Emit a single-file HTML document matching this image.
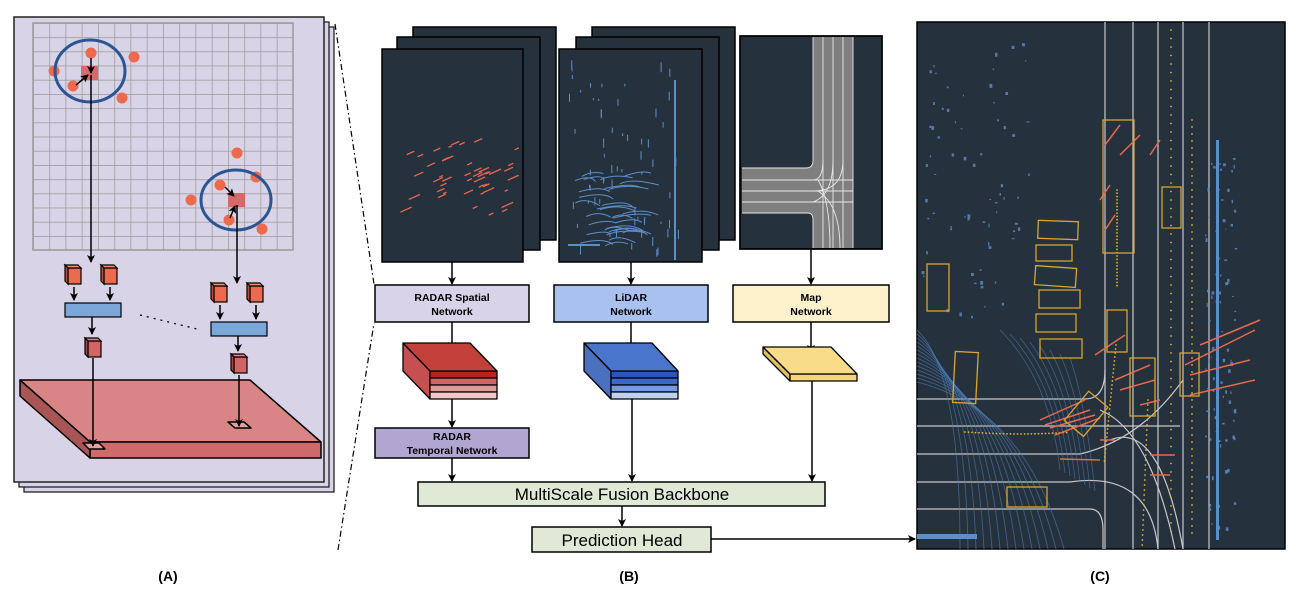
<!DOCTYPE html>
<html><head><meta charset="utf-8">
<style>
html,body{margin:0;padding:0;background:#fff;}
svg{display:block;}
text{font-family:"Liberation Sans",sans-serif;}
</style></head>
<body>
<svg id="s" width="1296" height="594" viewBox="0 0 1296 594" xmlns="http://www.w3.org/2000/svg">
<defs>
<marker id="ah" markerWidth="8" markerHeight="8" refX="7" refY="4" orient="auto" markerUnits="userSpaceOnUse">
<path d="M0,0 L8,4 L0,8 L2,4 z" fill="#000"/>
</marker>
<pattern id="grid" x="33" y="23" width="16.25" height="14.2" patternUnits="userSpaceOnUse">
<path d="M16.25 0 L0 0 L0 14.2" fill="none" stroke="#9a9a9a" stroke-width="1.5"/>
</pattern>
<clipPath id="cc"><rect x="917" y="22" width="368" height="527"/></clipPath>
</defs>

<!-- Panel A pages -->
<rect x="24" y="27" width="310" height="465" fill="#d8d3e6" stroke="#222" stroke-width="1.3"/>
<rect x="19" y="22" width="310" height="465" fill="#d8d3e6" stroke="#222" stroke-width="1.3"/>
<rect x="14" y="17" width="310" height="465" fill="#d8d3e6" stroke="#222" stroke-width="1.5"/>
<rect x="33" y="23" width="260" height="227" fill="url(#grid)"/>
<rect x="33" y="23" width="260" height="227" fill="none" stroke="#9a9a9a" stroke-width="1.5"/>
<g fill="#ee6a4f">
<circle cx="91" cy="53" r="5.5"/><circle cx="134" cy="57" r="5.5"/><circle cx="54" cy="71" r="5.5"/><circle cx="73" cy="86" r="5.5"/><circle cx="122" cy="98" r="5.5"/>
<circle cx="237" cy="153" r="5.5"/><circle cx="256" cy="177" r="5.5"/><circle cx="220" cy="185" r="5.5"/><circle cx="191" cy="200" r="5.5"/><circle cx="229" cy="220" r="5.5"/><circle cx="262" cy="229" r="5.5"/>
</g>
<rect x="81" y="66" width="17" height="14" fill="#d66a6a"/>
<rect x="228" y="193" width="17" height="14" fill="#d66a6a"/>
<ellipse cx="90" cy="71" rx="35" ry="31" fill="none" stroke="#2a5592" stroke-width="3"/>
<ellipse cx="236" cy="200" rx="35" ry="30" fill="none" stroke="#2a5592" stroke-width="3"/>
<g stroke="#000" stroke-width="1.5" fill="none" marker-end="url(#ah)">
<line x1="91" y1="58" x2="91" y2="73"/>
<line x1="76" y1="85" x2="88" y2="75"/>
<line x1="91" y1="75" x2="91" y2="262"/>
<line x1="225" y1="187" x2="234" y2="196"/>
<line x1="230" y1="218" x2="235" y2="206"/>
<line x1="237" y1="205" x2="237" y2="283"/>
<line x1="74" y1="287" x2="74" y2="300"/>
<line x1="110" y1="287" x2="110" y2="300"/>
<line x1="92" y1="317" x2="92" y2="334"/>
<line x1="220" y1="305" x2="220" y2="319"/>
<line x1="256" y1="305" x2="256" y2="319"/>
<line x1="238" y1="336" x2="238" y2="351"/>
</g>
<g stroke="#000" stroke-width="1.2">
<g transform="translate(65,265)"><rect x="3" y="3" width="13" height="16" fill="#ee6a4f"/><polygon points="0,0 13,0 16,3 3,3" fill="#f28a70"/><polygon points="0,0 3,3 3,19 0,16" fill="#c04a38"/></g>
<g transform="translate(101,265)"><rect x="3" y="3" width="13" height="16" fill="#ee6a4f"/><polygon points="0,0 13,0 16,3 3,3" fill="#f28a70"/><polygon points="0,0 3,3 3,19 0,16" fill="#c04a38"/></g>
<g transform="translate(211,283)"><rect x="3" y="3" width="13" height="16" fill="#ee6a4f"/><polygon points="0,0 13,0 16,3 3,3" fill="#f28a70"/><polygon points="0,0 3,3 3,19 0,16" fill="#c04a38"/></g>
<g transform="translate(247,283)"><rect x="3" y="3" width="13" height="16" fill="#ee6a4f"/><polygon points="0,0 13,0 16,3 3,3" fill="#f28a70"/><polygon points="0,0 3,3 3,19 0,16" fill="#c04a38"/></g>
<g transform="translate(85,338)"><rect x="3" y="3" width="13" height="16" fill="#d26464"/><polygon points="0,0 13,0 16,3 3,3" fill="#e08080"/><polygon points="0,0 3,3 3,19 0,16" fill="#a84545"/></g>
<g transform="translate(231,354)"><rect x="3" y="3" width="13" height="16" fill="#d26464"/><polygon points="0,0 13,0 16,3 3,3" fill="#e08080"/><polygon points="0,0 3,3 3,19 0,16" fill="#a84545"/></g>
<rect x="65" y="303" width="56" height="14" fill="#7aa7d8"/>
<rect x="211" y="322" width="56" height="14" fill="#7aa7d8"/>
</g>
<line x1="140" y1="315" x2="197" y2="329" stroke="#000" stroke-width="1.3" stroke-dasharray="2,5"/>
<g stroke="#000" stroke-width="1.5" stroke-linejoin="round">
<polygon points="20,380 250,380 321,442 90,442" fill="#d98585"/>
<polygon points="90,442 321,442 321,458 90,458" fill="#cf6a6a"/>
<polygon points="20,380 90,442 90,458 20,396" fill="#a85555"/>
<polygon points="83,443 99,443 105,449 89,449" fill="#e5a0a0"/>
<polygon points="228,422 244,422 251,428 235,428" fill="#e5a0a0"/>
</g>
<g stroke="#000" stroke-width="1.5" marker-end="url(#ah)"><line x1="93" y1="358" x2="93" y2="446"/><line x1="239" y1="375" x2="239" y2="426"/></g>
<g stroke="#000" stroke-width="1.2" stroke-dasharray="6,3,1.5,3" fill="none">
<line x1="335" y1="24" x2="374" y2="284"/>
<line x1="338" y1="550" x2="374" y2="323"/>
</g>

<!-- Panel B images -->
<g stroke="#000" stroke-width="1.5" fill="#26313e">
<rect x="413" y="27" width="143" height="213"/><rect x="397" y="37" width="143" height="213"/><rect x="382" y="49" width="141" height="213"/>
<rect x="592" y="27" width="143" height="213"/><rect x="576" y="37" width="143" height="213"/><rect x="559" y="49" width="143" height="213"/>
<rect x="740" y="36" width="142" height="213"/>
</g>
<g id="radarpts" stroke="#e8674d" stroke-width="1.3"></g>
<g id="lidarpts" stroke="#5b8fc7" stroke-width="1"></g>
<g>
<path d="M813,37 L853,37 L853,248 L813,248 L813,217 Q813,213 808,213 L742,213 L742,168 L806,168 Q813,168 813,160 Z" fill="#7f7f7f"/>
<g stroke="#e8e8e8" stroke-width="0.9" fill="none">
<line x1="813" y1="37" x2="813" y2="160"/><line x1="823" y1="37" x2="823" y2="248"/><line x1="833" y1="37" x2="833" y2="248"/><line x1="843" y1="37" x2="843" y2="248"/><line x1="853" y1="37" x2="853" y2="248"/>
<line x1="742" y1="168" x2="806" y2="168"/><line x1="742" y1="180" x2="853" y2="180"/><line x1="742" y1="191" x2="853" y2="191"/><line x1="742" y1="202" x2="853" y2="202"/><line x1="742" y1="213" x2="808" y2="213"/>
<path d="M806,168 Q813,168 813,160"/><path d="M808,213 Q813,213 813,220 L813,248"/>
<path d="M813,180 Q823,180 823,160"/><path d="M813,202 Q833,195 833,160"/><path d="M813,191 Q843,191 843,160"/>
<path d="M818,180 Q830,200 830,248"/><path d="M818,191 Q840,205 840,248"/>
</g>
</g>
<rect x="740" y="36" width="142" height="213" fill="none" stroke="#000" stroke-width="1.5"/>

<g stroke="#000" stroke-width="1.5" marker-end="url(#ah)">
<line x1="452" y1="262" x2="452" y2="284"/>
<line x1="631" y1="262" x2="631" y2="284"/>
<line x1="811" y1="249" x2="811" y2="284"/>
<line x1="452" y1="322" x2="452" y2="349"/>
<line x1="631" y1="322" x2="631" y2="349"/>
<line x1="811" y1="322" x2="811" y2="352"/>
<line x1="452" y1="399" x2="452" y2="427"/>
<line x1="632" y1="399" x2="632" y2="481"/>
<line x1="812" y1="381" x2="812" y2="481"/>
<line x1="452" y1="458" x2="452" y2="481"/>
<line x1="622" y1="506" x2="622" y2="526"/>
<line x1="711" y1="539" x2="915" y2="539"/>
</g>
<g stroke="#000" stroke-width="1.5">
<rect x="375" y="285" width="154" height="37" fill="#d8d3e8"/>
<rect x="554" y="285" width="154" height="37" fill="#a8c1ee"/>
<rect x="733" y="285" width="156" height="37" fill="#fdf1cc"/>
<rect x="375" y="428" width="154" height="30" fill="#b1a5d2"/>
<rect x="418" y="482" width="407" height="24" fill="#dfe9d6"/>
<rect x="532" y="527" width="179" height="25" fill="#dfe9d6"/>
</g>
<g font-size="10.5" font-weight="bold" text-anchor="middle" fill="#000">
<text x="452" y="301">RADAR Spatial</text><text x="452" y="315">Network</text>
<text x="631" y="301">LiDAR</text><text x="631" y="315">Network</text>
<text x="811" y="301">Map</text><text x="811" y="315">Network</text>
<text x="452" y="440">RADAR</text><text x="452" y="454">Temporal Network</text>
</g>
<text x="622" y="500" font-size="17" text-anchor="middle">MultiScale Fusion Backbone</text>
<text x="622" y="546" font-size="17" text-anchor="middle">Prediction Head</text>
<g stroke="#000" stroke-width="1.3" stroke-linejoin="round">
<polygon points="403,343 430,371 430,399 403,371" fill="#c65050"/>
<rect x="430" y="371" width="67" height="7" fill="#b5251e"/>
<rect x="430" y="378" width="67" height="7" fill="#d06565"/>
<rect x="430" y="385" width="67" height="7" fill="#e09a98"/>
<rect x="430" y="392" width="67" height="7" fill="#f2c8c4"/>
<polygon points="403,343 470,343 497,371 430,371" fill="#c4403a"/>
<polygon points="584,343 611,371 611,399 584,371" fill="#4a70c0"/>
<rect x="611" y="371" width="67" height="7" fill="#2a55c0"/>
<rect x="611" y="378" width="67" height="7" fill="#3e68c8"/>
<rect x="611" y="385" width="67" height="7" fill="#729add"/>
<rect x="611" y="392" width="67" height="7" fill="#bfd2f0"/>
<polygon points="584,343 652,343 678,371 611,371" fill="#4a75cc"/>
<polygon points="763,347 790,374 790,381 763,354" fill="#e0c060"/>
<rect x="790" y="374" width="67" height="7" fill="#f6d57a"/>
<polygon points="763,347 831,347 857,374 790,374" fill="#f8dc8a"/>
</g>

<!-- Panel C -->
<rect x="917" y="22" width="368" height="527" fill="#26313e" stroke="#000" stroke-width="1.5"/>
<g clip-path="url(#cc)">
<g stroke="#c8c8c8" stroke-width="1.2" fill="none">
<line x1="1105" y1="22" x2="1105" y2="549"/><line x1="1133" y1="22" x2="1133" y2="549"/>
<line x1="1158" y1="22" x2="1158" y2="549"/><line x1="1183" y1="22" x2="1183" y2="549"/>
<line x1="1209" y1="22" x2="1209" y2="549"/>
<path d="M917,399 L1085,399 Q1105,399 1105,370"/>
<line x1="917" y1="426" x2="1180" y2="426"/>
<path d="M917,454 L1080,454 Q1140,440 1183,380"/>
<path d="M917,482 L1070,482 Q1150,470 1158,549"/>
<path d="M917,509 L1090,509 Q1103,509 1103,530 L1103,549"/>
<path d="M1100,410 Q1150,430 1175,549"/><path d="M1110,440 Q1160,420 1183,549"/>
</g>
<g id="cpts"></g>
<g fill="none" stroke="#d9a52a" stroke-width="1.3">
<rect x="1103" y="120" width="31" height="133"/>
<rect x="1162" y="187" width="19" height="41"/>
<rect x="1038" y="221" width="40" height="18" transform="rotate(2 1058 230)"/>
<rect x="1036" y="245" width="36" height="16"/>
<rect x="1035" y="267" width="41" height="19" transform="rotate(4 1055 277)"/>
<rect x="1039" y="290" width="41" height="18"/>
<rect x="1036" y="314" width="40" height="18"/>
<rect x="1040" y="339" width="42" height="19"/>
<rect x="927" y="264" width="22" height="47"/>
<rect x="954" y="352" width="23" height="51" transform="rotate(3 965 377)"/>
<rect x="1107" y="310" width="20" height="42"/>
<rect x="1130" y="358" width="25" height="58"/>
<rect x="1180" y="353" width="19" height="43"/>
<rect x="1075" y="395" width="25" height="38" transform="rotate(40 1087 412)"/>
<rect x="1007" y="487" width="40" height="20"/>
</g>
</g>

<g font-size="14" font-weight="bold" text-anchor="middle">
<text x="168" y="581">(A)</text><text x="629" y="581">(B)</text><text x="1100" y="581">(C)</text>
</g>
<script>
(function(){
var ns="http://www.w3.org/2000/svg";
var seed=7;function r(){seed=(seed*16807)%2147483647;return seed/2147483647;}
function el(p,t,a){var e=document.createElementNS(ns,t);for(var k in a)e.setAttribute(k,a[k]);p.appendChild(e);return e;}
var rp=document.getElementById('radarpts');
for(var i=0;i<45;i++){var x=400+r()*115,y=130+r()*90;if(r()<0.4){y=165+r()*30;x=430+r()*60;}var l=3+r()*9;el(rp,'line',{x1:x,y1:y,x2:x+l,y2:y-l*0.45});}
var lp=document.getElementById('lidarpts');
for(var i=0;i<30;i++){var x=575+r()*50,y=170+r()*80;el(lp,'path',{d:'M'+x+','+y+' q'+(8+r()*20)+','+(-6)+' '+(20+r()*20)+','+(r()*6-3),fill:'none'});}
el(lp,'line',{x1:675,y1:80,x2:675,y2:260,'stroke-width':2});
el(lp,'line',{x1:568,y1:245,x2:600,y2:245,'stroke-width':2});
for(var i=0;i<60;i++){var x=565+r()*120,y=60+r()*195;el(lp,'rect',{x:x,y:y,width:1,height:2+r()*8,stroke:'none',fill:'#5b8fc7'});}
var cp=document.getElementById('cpts');
for(var i=0;i<14;i++){el(cp,'path',{d:'M917,'+(330+i*4)+' Q'+(960+i*5)+','+(370+i*3)+' '+(960+i*8)+','+(549),fill:'none',stroke:'#4e7fb8','stroke-width':0.9,'stroke-opacity':0.6});}
for(var i=0;i<8;i++){el(cp,'path',{d:'M'+(1000+i*10)+','+(330+i*4)+' Q'+(1050+i*5)+','+(380+i*3)+' '+(1060+i*5)+','+(470+i*3),fill:'none',stroke:'#4e7fb8','stroke-width':0.8,'stroke-opacity':0.6});}
el(cp,'rect',{x:1216,y:140,width:3,height:400,fill:'#5b8fc7'});
el(cp,'rect',{x:917,y:534,width:60,height:5,fill:'#5b8fc7'});
for(var i=0;i<70;i++){var x=920+r()*110,y=40+r()*280;el(cp,'rect',{x:x,y:y,width:1+r()*2,height:1+r()*3,fill:'#5b8fc7','fill-opacity':0.8});}
for(var i=0;i<90;i++){var x=1205+r()*30,y=150+r()*390;el(cp,'rect',{x:x,y:y,width:1+r()*2,height:1+r()*3,fill:'#5b8fc7','fill-opacity':0.8});}
for(var i=0;i<60;i++){el(cp,'circle',{cx:1171,cy:30+i*8.5,r:0.9,fill:'#e3b52a'});el(cp,'circle',{cx:1192,cy:120+i*7,r:0.9,fill:'#e3b52a'});}
for(var i=0;i<30;i++){el(cp,'circle',{cx:1117,cy:190+i*3.3,r:0.9,fill:'#e3b52a'});el(cp,'circle',{cx:1148-i*0.2,cy:400+i*5,r:0.9,fill:'#e3b52a'});el(cp,'circle',{cx:965+i*3.5,cy:432+Math.sin(i/10)*2,r:0.9,fill:'#e3b52a'});el(cp,'circle',{cx:1116-i*0.4,cy:345+i*4,r:0.9,fill:'#e3b52a'});}
var ar=[[1040,420,1085,400],[1045,425,1090,410],[1050,428,1095,415],[1055,435,1100,418],[1095,355,1125,335],[1115,380,1150,365],[1120,390,1155,380],[1140,405,1160,400],[1185,365,1255,330],[1190,375,1250,360],[1190,395,1255,380],[1105,145,1120,125],[1120,155,1140,135],[1150,155,1160,140],[1100,200,1110,185],[1105,230,1115,215],[1060,459,1100,460],[1150,455,1175,455],[1150,475,1170,475],[1200,345,1260,320],[1100,440,1115,440]];
ar.forEach(function(a){el(cp,'line',{x1:a[0],y1:a[1],x2:a[2],y2:a[3],stroke:'#e8674d','stroke-width':1.5});});
})();
</script>
</svg>
</body></html>
